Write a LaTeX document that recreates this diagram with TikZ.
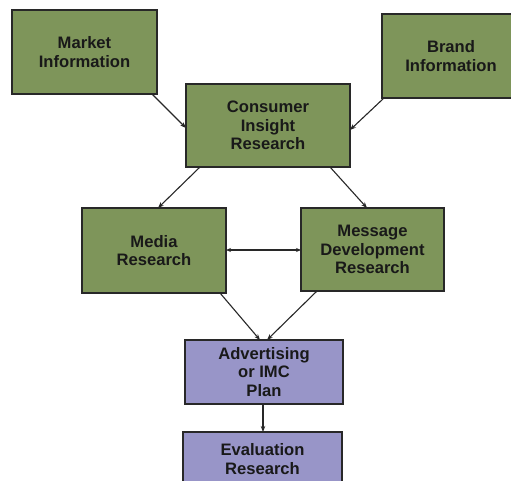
\documentclass[tikz,border=0pt]{standalone}
\usepackage{fontspec}
\setmainfont{Liberation Sans}
\usetikzlibrary{arrows.meta}
\definecolor{boxgreen}{RGB}{126,149,90}
\definecolor{boxpurple}{RGB}{152,149,200}
\definecolor{edge}{RGB}{40,40,40}
\tikzset{
  gbox/.style={draw=edge, line width=1.3pt, fill=boxgreen, align=center, inner sep=0pt,
    font=\fontsize{16.6}{18.5}\selectfont\bfseries, text=black!90},
  pbox/.style={gbox, fill=boxpurple},
  conn/.style={draw=edge, line width=1.1pt, -{Stealth[length=6pt,width=4.5pt]}},
}
\begin{document}
\begin{tikzpicture}[x=1pt,y=-1pt]
\useasboundingbox (0,0) rectangle (511,481);
\fill[white] (0,0) rectangle (511,481);
\node[gbox, minimum width=145pt, minimum height=84pt] (market) at (84.5,52) {Market\\Information};
\node[gbox, minimum width=138pt, minimum height=84pt] (brand) at (451,56) {Brand\\Information};
\node[gbox, minimum width=164pt, minimum height=83pt] (consumer) at (268,125.5) {Consumer\\Insight\\Research};
\node[gbox, minimum width=144pt, minimum height=85pt] (media) at (154,250.5) {Media\\Research};
\node[gbox, minimum width=143pt, minimum height=83pt] (message) at (372.5,249.5) {Message\\Development\\Research};
\node[pbox, minimum width=158pt, minimum height=64pt] (adv) at (264,372) {Advertising\\or IMC\\Plan};
\node[pbox, minimum width=159pt, minimum height=54pt] (eval) at (262.5,459) {Evaluation\\Research};

\coordinate (mS) at (152,94);
\coordinate (cW) at (186,128);
\coordinate (bS) at (384,98);
\coordinate (cE) at (350,130);
\coordinate (cSW) at (200,167);
\coordinate (mdN) at (158,208);
\coordinate (cSE) at (330,167);
\coordinate (msN) at (367,208);
\coordinate (mdE) at (226,250);
\coordinate (msW) at (301,250);
\coordinate (mdS) at (220,293);
\coordinate (aN1) at (260,340);
\coordinate (msS) at (317,291);
\coordinate (aN2) at (267,340);
\coordinate (aS) at (263,404);
\coordinate (eN) at (263,432);

\draw[conn] (mS) -- (cW);
\draw[conn] (bS) -- (cE);
\draw[conn] (cSW) -- (mdN);
\draw[conn] (cSE) -- (msN);
\draw[draw=edge, line width=1.1pt, {Stealth[length=5pt,width=4pt]}-{Stealth[length=5pt,width=4pt]}] (mdE) -- (msW);
\draw[conn] (mdS) -- (aN1);
\draw[conn] (msS) -- (aN2);
\draw[conn] (aS) -- (eN);
\end{tikzpicture}
\end{document}
